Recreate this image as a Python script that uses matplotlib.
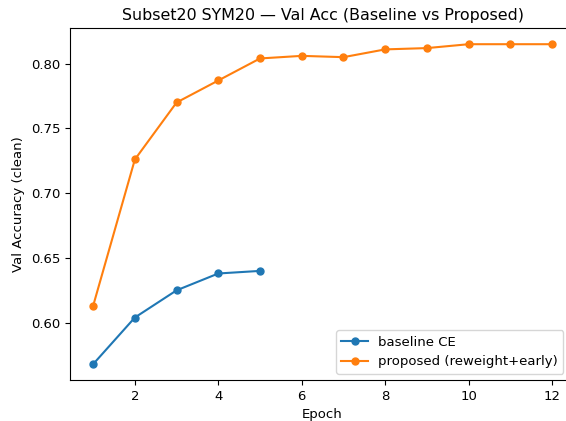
import matplotlib
matplotlib.use("Agg")
import matplotlib.pyplot as plt

epochs_base = [1, 2, 3, 4, 5]
acc_base = [0.568, 0.604, 0.625, 0.638, 0.640]

epochs_prop = [1, 2, 3, 4, 5, 6, 7, 8, 9, 10, 11, 12]
acc_prop = [0.613, 0.726, 0.770, 0.787, 0.804, 0.806, 0.805, 0.811, 0.812, 0.815, 0.815, 0.815]

plt.rcParams["font.size"] = 9.5
fig, ax = plt.subplots(figsize=(5.66, 4.21), dpi=100)
# the original image is cropped on the right, so the axes run past the edge
fig.subplots_adjust(left=0.124, right=1.016, top=0.933, bottom=0.097)

ax.plot(epochs_base, acc_base, marker="o", ms=5, label="baseline CE")
ax.plot(epochs_prop, acc_prop, marker="o", ms=5, label="proposed (reweight+early)")
ax.set_title("Subset20 SYM20 \u2014 Val Acc (Baseline vs Proposed)")
ax.set_xlabel("Epoch")
ax.set_ylabel("Val Accuracy (clean)")
ax.legend(loc="lower right", bbox_to_anchor=(0.99, 0.0))

fig.savefig("out.png")
